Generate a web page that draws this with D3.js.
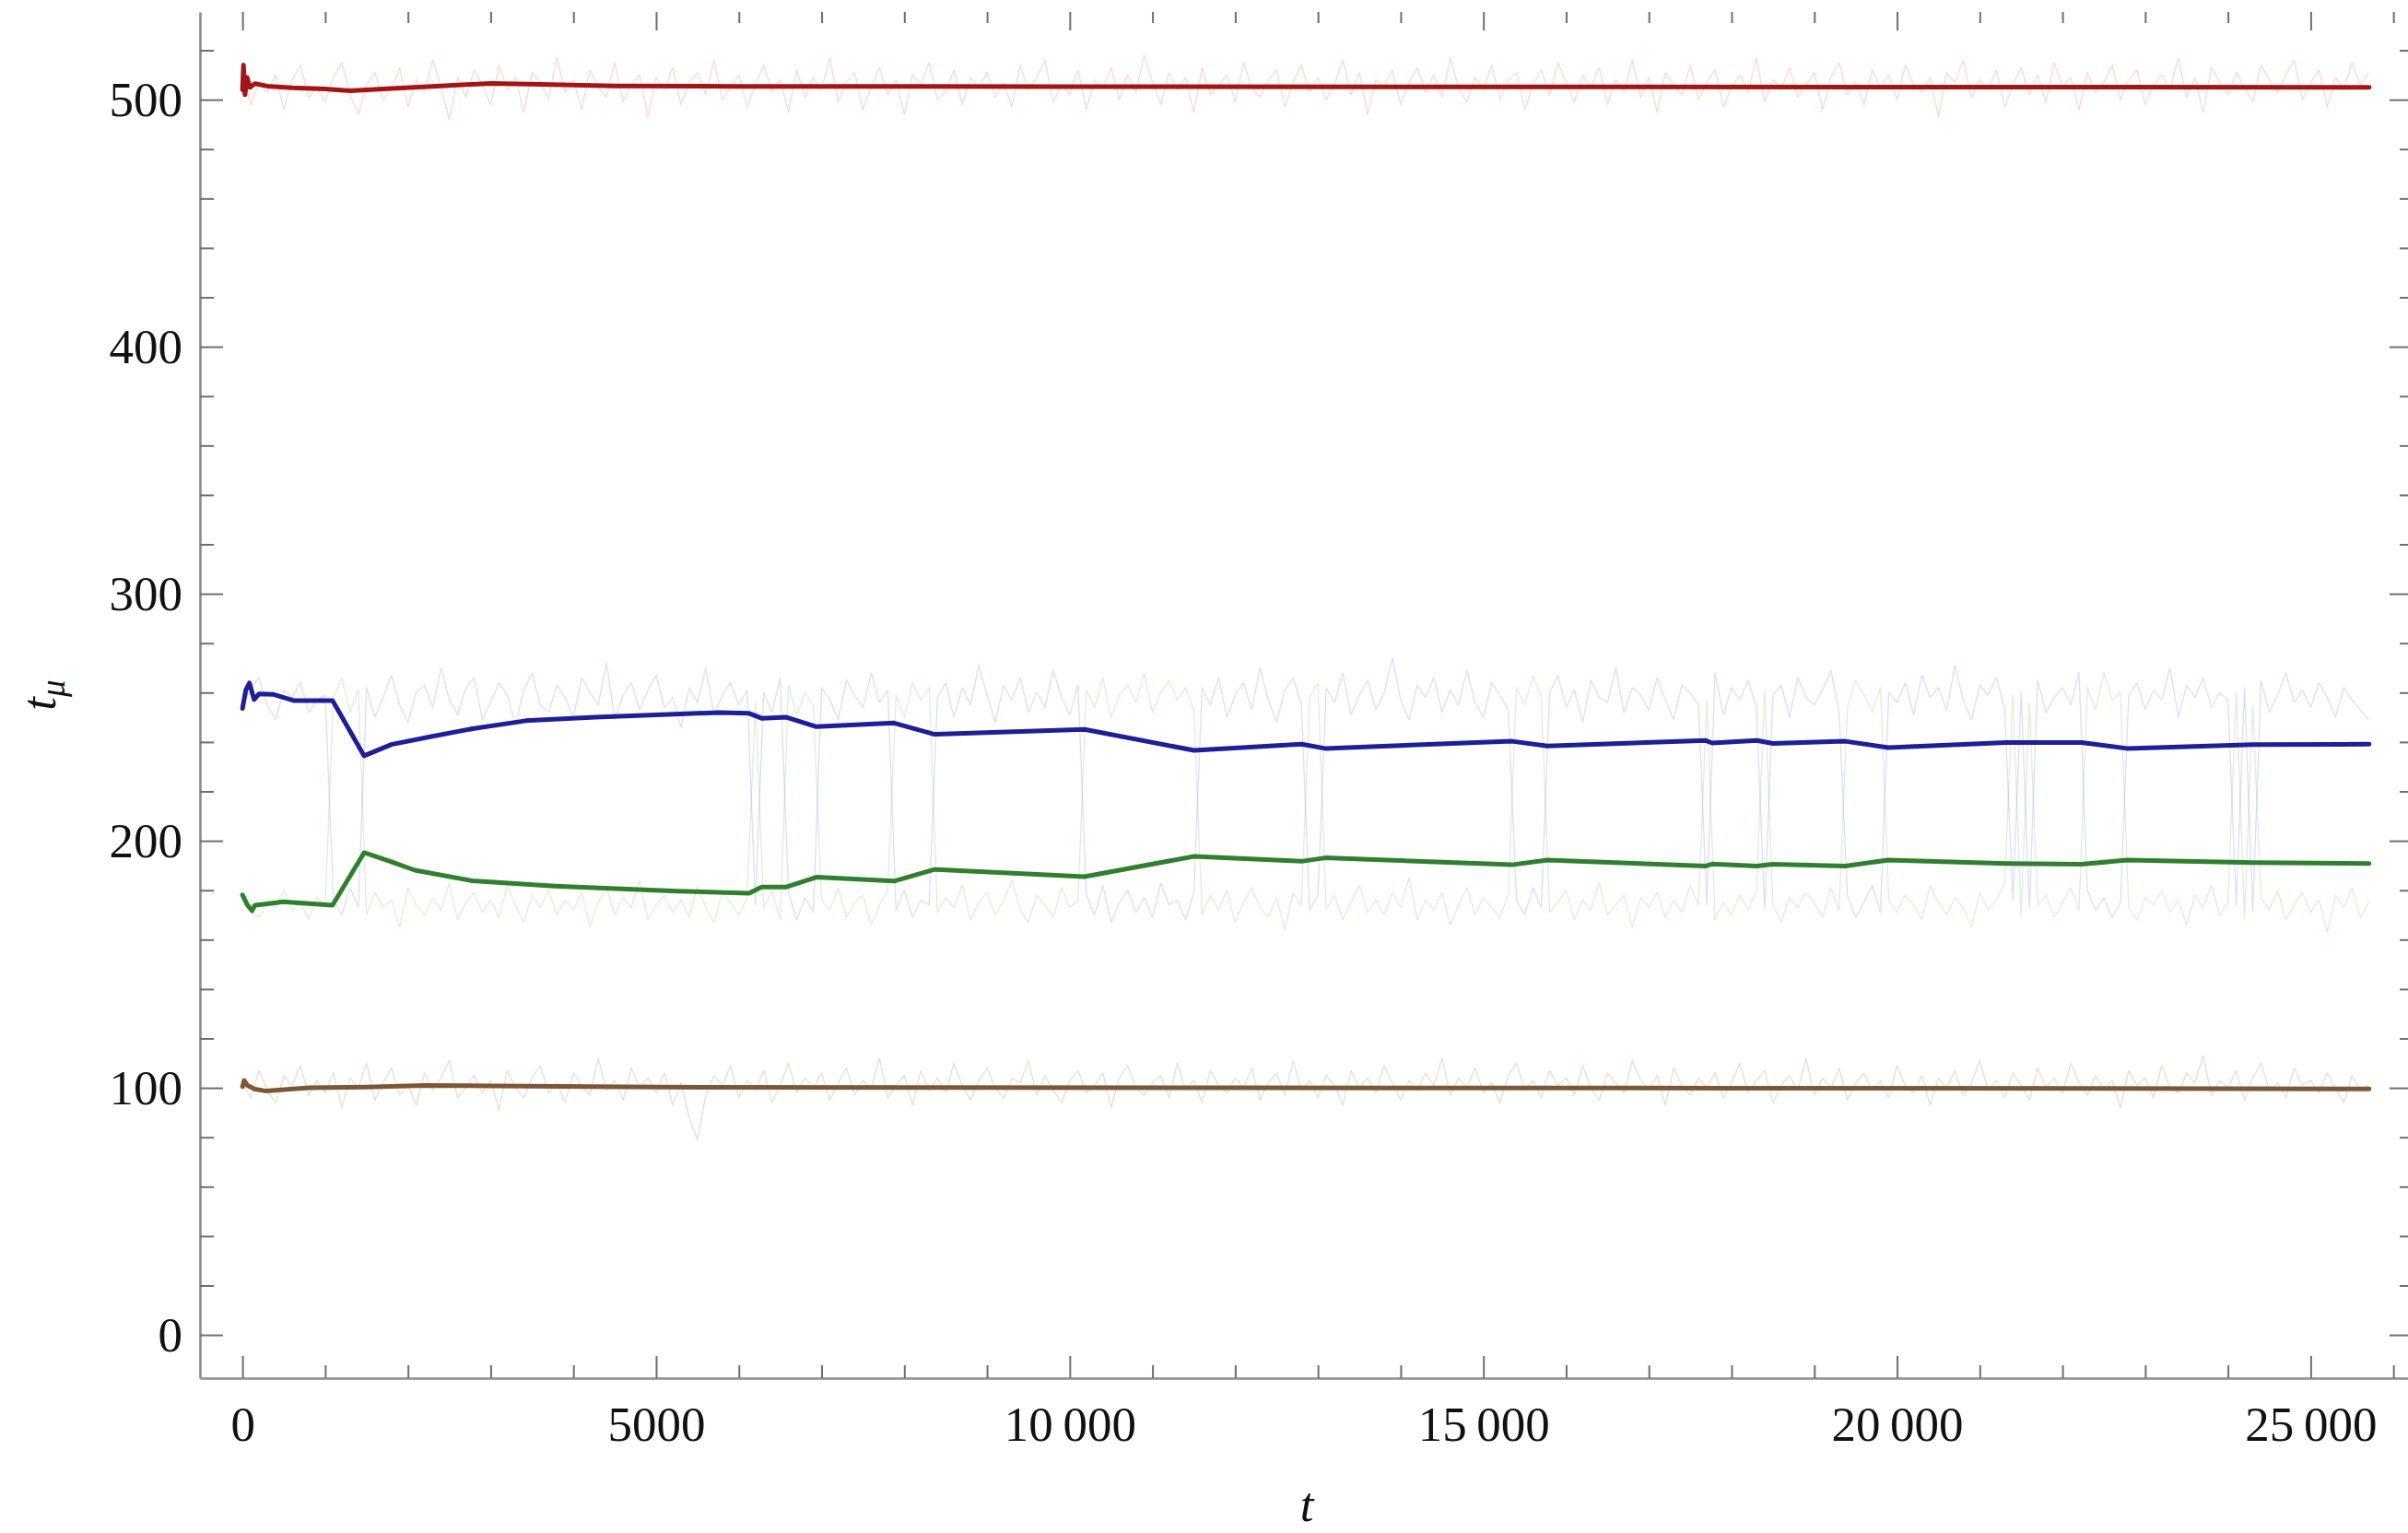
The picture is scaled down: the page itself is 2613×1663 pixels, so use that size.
<!DOCTYPE html>
<html>
<head>
<meta charset="utf-8">
<script src="https://cdn.jsdelivr.net/npm/d3@7/dist/d3.min.js"></script>
<style>
  html, body { margin: 0; padding: 0; background: #fff; overflow: hidden; }
  svg text { font-family: "Liberation Serif", "Times New Roman", "DejaVu Serif", serif; fill: #111; }
</style>
</head>
<body>
<svg id="chart" width="2613" height="1663"></svg>
<script>
// Sampled chain traces: one value every `sampleStep` iterations, starting at t = 0.
const sampleStep = 100;

const traceRed = [
  512, 498, 507, 503, 510, 496, 508, 514, 501, 505,
  499, 509, 515, 502, 494, 506, 511, 500, 504, 513,
  497, 508, 503, 516, 505, 492, 509, 501, 512, 506,
  498, 514, 504, 509, 495, 511, 507, 500, 517, 503,
  508, 496, 512, 505, 501, 515, 499, 506, 510, 493,
  509, 504, 513, 498, 507, 511, 502, 516, 500, 505,
  510, 497, 506, 514, 503, 508, 495, 512, 501, 509,
  504, 517, 499, 507, 511, 496, 505, 513, 502, 508,
  494, 510, 506, 515, 500, 503, 512, 498, 509, 505,
  511, 501, 507, 497, 514, 504, 509, 516, 499, 506,
  502, 512, 496, 508, 505, 513, 500, 510, 503, 518,
  507, 498, 511, 504, 509, 495, 513, 502, 506, 510,
  499, 515, 505, 501, 508, 512, 497, 507, 514, 503,
  509, 500, 506, 516, 502, 511, 494, 508, 505, 512,
  498, 507, 513, 503, 510, 501, 517, 505, 499, 509,
  504, 514, 500, 508, 511, 496, 506, 512, 502, 515,
  507, 499, 510, 505, 513, 498, 508, 503, 516, 501,
  509, 495, 511, 506, 502, 514, 500, 507, 512, 497,
  505, 510, 503, 517, 499, 508, 504, 513, 501, 506,
  511, 496, 509, 515, 502, 507, 498, 512, 505, 510,
  500, 514, 506, 503, 509, 493, 511, 507, 516, 501,
  508, 504, 512, 497, 506, 513, 502, 510, 499, 515,
  505, 509, 496, 511, 503, 507, 514, 500, 508, 512,
  498, 506, 510, 504, 517, 501, 509, 495, 513, 507,
  502, 511, 505, 499, 514, 508, 503, 510, 516, 500,
  507, 512, 497, 509, 504, 515, 506, 511
];

const traceBlue = [
  254, 262, 266, 255, 249, 261, 258, 264, 252, 257,
  259, 176, 170, 181, 173, 262, 250, 258, 267, 255,
  248, 260, 263, 254, 270, 257, 251, 262, 266, 249,
  256, 264, 259, 247, 261, 268, 255, 252, 263, 258,
  250, 266, 260, 255, 272, 249, 259, 264, 253, 261,
  267, 254, 258, 246, 262, 256, 270, 251, 259, 264,
  255, 261, 174, 260, 252, 266, 179, 168, 177, 171,
  262, 257, 249, 265, 259, 254, 268, 256, 261, 172,
  180, 169, 176, 174, 258, 264, 250, 262, 255, 271,
  259, 248, 263, 257, 266, 252, 260, 254, 269, 258,
  251, 263, 178, 170, 182, 167, 175, 180, 171, 177,
  169, 183, 174, 176, 168, 179, 262, 255, 266, 250,
  259, 264, 253, 270, 257, 248, 261, 266, 255, 172,
  178, 262, 256, 268, 251, 259, 265, 253, 260, 274,
  257, 249, 263, 258, 266, 252, 261, 255, 269, 256,
  250, 264, 259, 253, 176, 170, 181, 173, 260, 267,
  254, 261, 248, 265, 258, 256, 270, 252, 262, 259,
  253, 266, 257, 249, 263, 260, 255, 174, 268, 251,
  262, 257, 265, 254, 172, 259, 263, 250, 266, 258,
  255, 261, 269, 252, 178, 169, 175, 182, 171, 260,
  256, 264, 251, 267, 258, 262, 253, 271, 257, 249,
  263, 259, 266, 254, 176, 260, 173, 265, 252, 258,
  262, 255, 268, 180, 172, 177, 169, 175, 259, 264,
  253, 261, 257, 270, 250, 263, 258, 266, 254, 260,
  257, 174, 262, 171, 265, 252, 259, 268, 256, 261,
  254, 264, 258, 250, 262, 257, 253, 249
];

const traceGreen = [
  178, 171, 169, 176, 173, 180, 172, 175, 168, 177,
  174, 258, 266, 252, 261, 170, 179, 173, 176, 165,
  181, 174, 170, 177, 172, 183, 168, 175, 179, 171,
  176, 169, 182, 174, 167, 178, 173, 180, 170, 176,
  172, 179, 165, 175, 181, 170, 177, 173, 184, 168,
  174, 178, 171, 176, 169, 182, 173, 167, 179, 175,
  170, 177, 256, 173, 180, 168, 263, 251, 260, 255,
  176, 172, 181, 169, 175, 178, 166, 174, 180, 259,
  250, 264, 257, 262, 171, 177, 173, 182, 168, 175,
  179, 170, 176, 184, 172, 167, 178, 174, 169, 181,
  173, 176, 261, 254, 266, 250, 259, 263, 256, 268,
  252, 260, 265, 257, 262, 253, 170, 178, 172, 180,
  167, 175, 181, 173, 169, 177, 164, 179, 174, 258,
  264, 172, 178, 168, 175, 182, 171, 176, 170, 179,
  173, 185, 168, 176, 172, 179, 166, 174, 181, 170,
  177, 173, 169, 178, 262, 255, 267, 258, 171, 175,
  180, 168, 176, 172, 183, 170, 174, 178, 165, 177,
  173, 179, 169, 176, 171, 182, 174, 257, 168, 175,
  170, 178, 172, 180, 261, 174, 167, 177, 173, 179,
  175, 169, 181, 172, 254, 265, 259, 252, 262, 176,
  171, 178, 174, 168, 182, 175, 170, 177, 173, 165,
  179, 172, 176, 183, 259, 170, 256, 174, 178, 169,
  175, 181, 172, 262, 253, 268, 257, 260, 173, 168,
  177, 174, 180, 171, 176, 166, 178, 173, 182, 170,
  175, 260, 169, 255, 177, 172, 180, 168, 174, 179,
  171, 176, 163, 178, 173, 181, 169, 175
];

const traceBrown = [
  102, 96, 107, 99, 94, 105, 101, 109, 97, 103,
  98, 106, 92, 104, 100, 110, 95, 102, 108, 97,
  101, 93, 106, 99, 104, 111, 96, 100, 105, 98,
  103, 91, 107, 100, 96, 104, 109, 98, 102, 94,
  106, 101, 97, 112, 99, 103, 95, 108, 100, 104,
  98, 106, 93, 102, 88, 79, 97, 105, 101, 109,
  96, 103, 99, 107, 94, 101, 110, 98, 104, 100,
  106, 95, 102, 108, 97, 103, 100, 112, 96, 101,
  105, 93, 107, 99, 104, 98, 110, 101, 95, 103,
  108, 100, 96, 104, 102, 111, 97, 105, 99, 94,
  103, 107, 98, 101, 106, 92, 104, 109, 100, 97,
  102, 105, 96, 110, 99, 103, 94, 107, 101, 98,
  104, 100, 108, 95, 102, 106, 97, 111, 99, 103,
  96, 105, 101, 93, 107, 100, 104, 98, 109, 102,
  95, 103, 99, 106, 101, 112, 97, 104, 100, 108,
  98, 102, 94, 105, 110, 99, 103, 96, 107, 101,
  104, 97, 109, 100, 95, 106, 102, 98, 111, 103,
  99, 105, 93, 108, 101, 97, 104, 100, 106, 96,
  102, 110, 98, 103, 107, 94, 101, 105, 99, 112,
  97, 104, 100, 108, 95, 102, 106, 99, 103, 96,
  109, 101, 98, 105, 93, 104, 100, 107, 97, 102,
  111, 99, 103, 96, 106, 101, 95, 108, 100, 104,
  98, 110, 102, 97, 105, 99, 103, 92, 107, 101,
  104, 96, 109, 100, 98, 106, 102, 113, 97, 103,
  100, 107, 95, 104, 110, 99, 102, 96, 108, 101,
  103, 98, 106, 100, 94, 105, 99, 101
];

// Running means as [t, value] knots.
const meanRed = [
  [0, 504], [12, 514], [30, 502], [55, 509], [90, 505], [150, 506.5],
  [300, 505.5], [600, 504.8], [1000, 504.3], [1300, 503.6], [1800, 504.5],
  [2400, 505.6], [3000, 506.6], [3600, 506.2], [4500, 505.6], [6000, 505.4],
  [10000, 505.3], [15000, 505.2], [20000, 505.1], [25707, 505.0]
];

const meanBlue = [
  [0, 253.6], [40, 261], [84, 263.9], [140, 257.2], [200, 259.5], [367, 259.3],
  [616, 256.8], [1088, 256.8], [1470, 234.4], [1800, 239], [2282, 242.2],
  [2800, 245.5], [3424, 248.6], [4265, 250.0], [5000, 251], [5757, 251.9],
  [6123, 251.6], [6276, 249.6], [6575, 250.0], [6938, 246.2], [7876, 247.7],
  [8366, 243.1], [10178, 245.1], [11503, 236.6], [12804, 239.1], [13085, 237.4],
  [15345, 240.3], [15773, 238.4], [17688, 240.6], [17766, 239.6], [18305, 240.6],
  [18499, 239.4], [19375, 240.3], [19894, 237.7], [21322, 239.8], [22229, 239.8],
  [22780, 237.4], [24304, 238.9], [25707, 239.1]
];

const meanGreen = [
  [0, 178.1], [60, 174], [115, 171.7], [150, 173.9], [300, 174.5], [490, 175.3],
  [1088, 173.9], [1470, 195.2], [1800, 191.5], [2082, 188.1], [2778, 183.8],
  [3773, 181.7], [5264, 179.6], [6123, 178.8], [6276, 181.3], [6575, 181.3],
  [6938, 185.3], [7876, 183.7], [8366, 188.4], [10178, 185.5], [11503, 193.7],
  [12804, 191.7], [13085, 193.1], [15345, 190.3], [15773, 192.2], [17688, 189.8],
  [17766, 190.6], [18305, 189.8], [18499, 190.5], [19375, 189.8], [19894, 192.2],
  [21322, 190.8], [22229, 190.5], [22780, 192.2], [24304, 191.2], [25707, 190.8]
];

const meanBrown = [
  [0, 100.5], [20, 103], [60, 101], [150, 99.5], [290, 98.7], [500, 99.3],
  [800, 100], [1500, 100.3], [2200, 101], [3000, 100.8], [5000, 100.3],
  [8000, 100.1], [12000, 100.0], [18000, 99.9], [25707, 99.6]
];

// Axis ticks and labels
const xMajorTicks = [0, 5000, 10000, 15000, 20000, 25000];
const xTickLabels = ["0", "5000", "10\u2009000", "15\u2009000", "20\u2009000", "25\u2009000"];
const xMinorTicks = [1000, 2000, 3000, 4000, 6000, 7000, 8000, 9000, 11000, 12000, 13000, 14000,
                     16000, 17000, 18000, 19000, 21000, 22000, 23000, 24000, 26000];
const yMajorTicks = [0, 100, 200, 300, 400, 500];
const yTickLabels = ["0", "100", "200", "300", "400", "500"];
const yMinorTicks = [20, 40, 60, 80, 120, 140, 160, 180, 220, 240, 260, 280,
                     320, 340, 360, 380, 420, 440, 460, 480, 520];

// ---- drawing ----
const svg = d3.select("#chart");
const frame = { left: 217, right: 2617, top: 13, bottom: 1495 };

const x = d3.scaleLinear().domain([-514, 26221]).range([frame.left, frame.right]);
const y = d3.scaleLinear().domain([-17.5, 535.5]).range([frame.bottom, frame.top]);

const axisColor = "#8c8c8c";
const fontSize = 53;

function styleAxis(g, showDomain) {
  g.selectAll(".tick line").attr("stroke", "#6e6e6e").attr("stroke-width", 2);
  g.select(".domain").attr("stroke", showDomain ? axisColor : "none").attr("stroke-width", 2.6);
  g.selectAll("text").attr("font-size", fontSize).attr("fill", "#111")
    .attr("font-family", '"Liberation Serif", "Times New Roman", serif');
}

// Bottom frame
svg.append("g").attr("transform", `translate(0,${frame.bottom})`)
  .call(d3.axisBottom(x).tickValues(xMinorTicks).tickSizeInner(-14).tickSizeOuter(0).tickFormat(""))
  .call(g => styleAxis(g, true));
svg.append("g").attr("transform", `translate(0,${frame.bottom})`)
  .call(d3.axisBottom(x).tickValues(xMajorTicks).tickSizeInner(-24).tickSizeOuter(0)
    .tickPadding(30).tickFormat((d, i) => xTickLabels[i]))
  .call(g => styleAxis(g, false));

// Top frame ticks
svg.append("g").attr("transform", `translate(0,${frame.top})`)
  .call(d3.axisTop(x).tickValues(xMinorTicks).tickSizeInner(-12).tickSizeOuter(0).tickFormat(""))
  .call(g => styleAxis(g, false));
svg.append("g").attr("transform", `translate(0,${frame.top})`)
  .call(d3.axisTop(x).tickValues(xMajorTicks).tickSizeInner(-20).tickSizeOuter(0).tickFormat(""))
  .call(g => styleAxis(g, false));

// Left frame
svg.append("g").attr("transform", `translate(${frame.left},0)`)
  .call(d3.axisLeft(y).tickValues(yMinorTicks).tickSizeInner(-15).tickSizeOuter(0).tickFormat(""))
  .call(g => styleAxis(g, true));
svg.append("g").attr("transform", `translate(${frame.left},0)`)
  .call(d3.axisLeft(y).tickValues(yMajorTicks).tickSizeInner(-25).tickSizeOuter(0)
    .tickPadding(19).tickFormat((d, i) => yTickLabels[i]))
  .call(g => styleAxis(g, false));

// Right frame ticks
svg.append("g").attr("transform", `translate(${frame.right},0)`)
  .call(d3.axisRight(y).tickValues(yMinorTicks).tickSizeInner(-13).tickSizeOuter(0).tickFormat(""))
  .call(g => styleAxis(g, false));
svg.append("g").attr("transform", `translate(${frame.right},0)`)
  .call(d3.axisRight(y).tickValues(yMajorTicks).tickSizeInner(-24).tickSizeOuter(0).tickFormat(""))
  .call(g => styleAxis(g, false));

// Faint sampled traces
const traceLine = d3.line().x((d, i) => x(i * sampleStep)).y(d => y(d));
const traces = [
  { data: traceRed,   color: "#f07a7a", opacity: 0.30 },
  { data: traceBlue,  color: "#7d7de8", opacity: 0.26 },
  { data: traceGreen, color: "#8cc07a", opacity: 0.28 },
  { data: traceBrown, color: "#b4a494", opacity: 0.36 }
];
svg.append("g").selectAll("path").data(traces).join("path")
  .attr("d", d => traceLine(d.data))
  .attr("fill", "none")
  .attr("stroke", d => d.color)
  .attr("stroke-opacity", d => d.opacity)
  .attr("stroke-width", 1.3)
  .attr("stroke-linejoin", "round");

// Running-mean lines
const meanLine = d3.line().x(d => x(d[0])).y(d => y(d[1]));
const means = [
  { data: meanRed,   color: "#a31414" },
  { data: meanBlue,  color: "#1e1e96" },
  { data: meanGreen, color: "#2f7f2f" },
  { data: meanBrown, color: "#7c5636" }
];
svg.append("g").selectAll("path").data(means).join("path")
  .attr("d", d => meanLine(d.data))
  .attr("fill", "none")
  .attr("stroke", d => d.color)
  .attr("stroke-width", 5)
  .attr("stroke-linejoin", "round")
  .attr("stroke-linecap", "round");

// Axis titles
svg.append("text")
  .attr("x", (frame.left + frame.right) / 2 + 1)
  .attr("y", 1650)
  .attr("text-anchor", "middle")
  .attr("font-size", fontSize)
  .attr("font-style", "italic")
  .text("t");

const yTitle = svg.append("text")
  .attr("transform", `translate(60,${(frame.top + frame.bottom) / 2}) rotate(-90)`)
  .attr("text-anchor", "middle")
  .attr("font-size", fontSize);
yTitle.append("tspan").attr("font-style", "italic").text("t");
yTitle.append("tspan").attr("font-style", "italic").attr("font-size", fontSize * 0.7)
  .attr("dy", 10).text("μ");
</script>
</body>
</html>
